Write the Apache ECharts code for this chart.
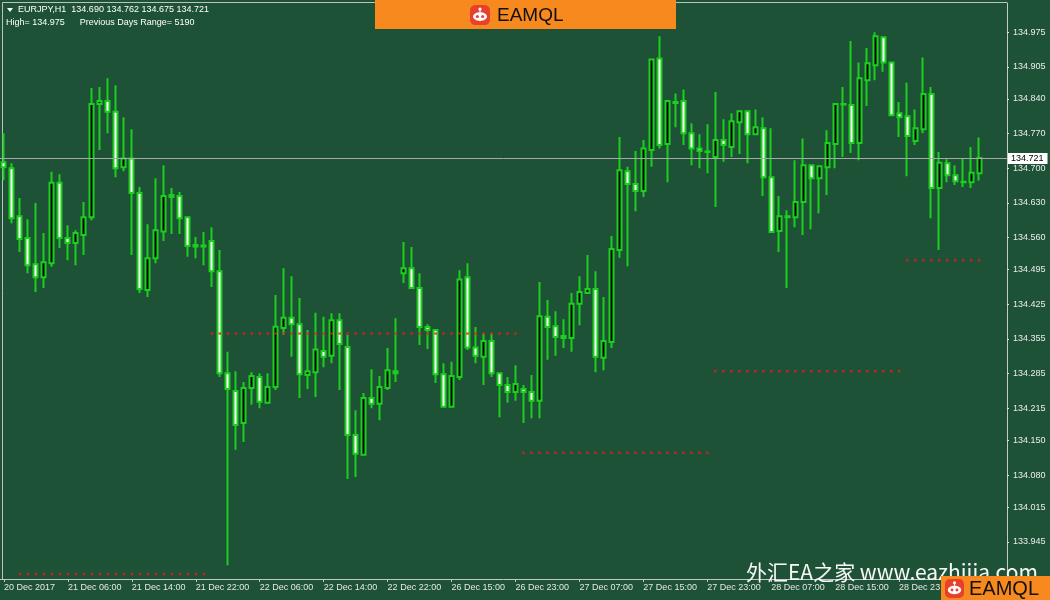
<!DOCTYPE html>
<html><head><meta charset="utf-8">
<script src="https://cdn.jsdelivr.net/npm/echarts@6/dist/echarts.min.js"></script>
<style>html,body{margin:0;padding:0;background:#1e5236}#c{width:1050px;height:600px}</style>
</head><body><div id="c"></div>
<script>
const symbolName = 'EURJPY,H1';
const openP = [134.712,134.700,134.603,134.559,134.506,134.480,134.508,134.671,134.559,134.549,
134.565,134.601,134.830,134.836,134.814,134.702,134.720,134.650,134.454,134.518,
134.572,134.646,134.644,134.601,134.545,134.544,134.553,134.492,134.286,134.250,
134.185,134.256,134.278,134.226,134.258,134.377,134.398,134.385,134.282,134.288,
134.331,134.321,134.393,134.339,134.161,134.121,134.236,134.224,134.256,134.290,
134.488,134.498,134.458,134.379,134.373,134.284,134.218,134.278,134.480,134.338,
134.319,134.351,134.286,134.262,134.248,134.254,134.248,134.230,134.400,134.381,
134.361,134.357,134.426,134.448,134.456,134.317,134.349,134.535,134.694,134.668,
134.654,134.737,134.922,134.749,134.834,134.836,134.771,134.740,134.734,134.723,
134.757,134.743,134.793,134.815,134.769,134.781,134.682,134.573,134.603,134.601,
134.632,134.706,134.680,134.702,134.749,134.830,134.828,134.751,134.878,134.908,
134.965,134.914,134.811,134.805,134.755,134.779,134.850,134.660,134.710,134.686,
134.673,134.672,134.690];
const highP = [134.771,134.710,134.640,134.597,134.630,134.569,134.693,134.688,134.585,134.575,
134.632,134.862,134.864,134.882,134.868,134.803,134.779,134.662,134.587,134.680,
134.706,134.660,134.652,134.603,134.561,134.571,134.581,134.535,134.329,134.290,
134.268,134.288,134.286,134.286,134.444,134.498,134.482,134.438,134.373,134.408,
134.400,134.407,134.407,134.363,134.211,134.246,134.294,134.280,134.337,134.397,
134.551,134.541,134.488,134.385,134.375,134.306,134.309,134.494,134.508,134.379,
134.367,134.367,134.288,134.278,134.302,134.262,134.282,134.470,134.434,134.411,
134.395,134.448,134.482,134.525,134.492,134.440,134.563,134.763,134.703,134.735,
134.757,134.922,134.967,134.838,134.851,134.859,134.791,134.769,134.789,134.854,
134.799,134.811,134.817,134.817,134.819,134.803,134.781,134.644,134.615,134.716,
134.760,134.708,134.706,134.777,134.832,134.864,134.957,134.914,134.943,134.975,
134.967,134.914,134.834,134.873,134.819,134.924,134.864,134.733,134.718,134.706,
134.720,134.743,134.762];
const lowP = [134.676,134.589,134.531,134.488,134.450,134.458,134.501,134.539,134.514,134.504,
134.525,134.595,134.737,134.771,134.682,134.694,134.525,134.448,134.440,134.508,
134.553,134.567,134.567,134.521,134.518,134.504,134.460,134.278,133.898,134.131,
134.147,134.222,134.215,134.225,134.252,134.363,134.319,134.236,134.254,134.238,
134.298,134.306,134.252,134.072,134.076,134.121,134.215,134.191,134.252,134.268,
134.468,134.456,134.343,134.335,134.266,134.218,134.217,134.272,134.333,134.306,
134.262,134.278,134.197,134.226,134.230,134.185,134.195,134.195,134.313,134.321,
134.337,134.329,134.383,134.448,134.288,134.292,134.337,134.519,134.502,134.613,
134.642,134.703,134.740,134.672,134.783,134.747,134.706,134.700,134.690,134.622,
134.713,134.723,134.729,134.710,134.767,134.644,134.571,134.531,134.458,134.581,
134.565,134.577,134.609,134.646,134.700,134.723,134.731,134.716,134.826,134.878,
134.895,134.807,134.763,134.684,134.747,134.771,134.599,134.535,134.672,134.666,
134.662,134.660,134.675];
const closeP = [134.702,134.599,134.557,134.504,134.480,134.510,134.671,134.559,134.549,134.569,
134.601,134.830,134.836,134.814,134.700,134.720,134.650,134.456,134.518,134.575,
134.644,134.642,134.599,134.543,134.542,134.542,134.492,134.286,134.254,134.181,
134.256,134.280,134.228,134.258,134.380,134.398,134.385,134.284,134.290,134.334,
134.319,134.393,134.345,134.161,134.123,134.236,134.224,134.258,134.292,134.286,
134.498,134.458,134.379,134.373,134.284,134.218,134.280,134.475,134.338,134.321,
134.351,134.286,134.262,134.248,134.264,134.248,134.230,134.401,134.379,134.359,
134.357,134.426,134.450,134.456,134.319,134.351,134.537,134.696,134.668,134.654,
134.740,134.920,134.747,134.836,134.832,134.771,134.740,134.735,134.733,134.757,
134.747,134.795,134.815,134.769,134.783,134.682,134.571,134.603,134.601,134.632,
134.706,134.680,134.704,134.751,134.830,134.829,134.751,134.882,134.912,134.967,
134.914,134.807,134.803,134.765,134.781,134.850,134.660,134.711,134.686,134.674,
134.672,134.691,134.721];
const xTickLabels = ['20 Dec 2017','21 Dec 06:00','21 Dec 14:00','21 Dec 22:00','22 Dec 06:00','22 Dec 14:00','22 Dec 22:00','26 Dec 15:00','26 Dec 23:00','27 Dec 07:00','27 Dec 15:00','27 Dec 23:00','28 Dec 07:00','28 Dec 15:00','28 Dec 23:00'];
const yTickValues = [134.975,134.905,134.840,134.770,134.700,134.630,134.560,134.495,134.425,134.355,134.285,134.215,134.150,134.080,134.015,133.945];
const dayHigh = 134.975;
const prevDaysRange = 5190;
const levelValues = [133.880, 134.366, 134.125, 134.290, 134.514];
const levelStart = [2, 26, 65, 89, 113];
const levelEnd = [25, 64, 88, 112, 122];
const yMin = 133.870, yMax = 135.034;
const slotCount = 126;

const n = closeP.length;
const lastPrice = closeP[n - 1];
const categories = Array.from({length: slotCount}, (_, i) => String(i));
const candleData = openP.map((o, i) => [o, closeP[i], lowP[i], highP[i]]);
const levelDots = [];
levelValues.forEach((v, j) => { for (let k = levelStart[j]; k <= levelEnd[j]; k++) levelDots.push([k, v]); });

const GREEN = '#1ccf1c';
const FONT = '"Liberation Sans", Arial, sans-serif';

function robot(x, y, s, z) {
  return { type: 'group', x: x, y: y, z: z, children: [
    { type: 'rect', shape: {x: 0, y: 0, width: s, height: s, r: s * 0.26}, style: {fill: '#e8402a'}, z: z },
    { type: 'circle', shape: {cx: s / 2, cy: s * 0.2, r: s * 0.08}, style: {fill: '#fff'}, z: z },
    { type: 'rect', shape: {x: s * 0.47, y: s * 0.22, width: s * 0.06, height: s * 0.14}, style: {fill: '#fff'}, z: z },
    { type: 'ellipse', shape: {cx: s / 2, cy: s * 0.58, rx: s * 0.35, ry: s * 0.22}, style: {fill: '#fff'}, z: z },
    { type: 'circle', shape: {cx: s * 0.37, cy: s * 0.58, r: s * 0.075}, style: {fill: '#e8402a'}, z: z },
    { type: 'circle', shape: {cx: s * 0.63, cy: s * 0.58, r: s * 0.075}, style: {fill: '#e8402a'}, z: z }
  ]};
}

const chart = echarts.init(document.getElementById('c'), null, {renderer: 'canvas'});
chart.setOption({
  backgroundColor: '#1e5236',
  animation: false,
  grid: { left: -1, right: 43, top: 3, bottom: 21, containLabel: false },
  xAxis: {
    type: 'category', data: categories, boundaryGap: true,
    axisLine: { lineStyle: { color: '#c8c8c8', width: 1 } },
    axisTick: { show: true, interval: 7, alignWithLabel: true, length: 3, lineStyle: { color: '#c8c8c8' } },
    axisLabel: { interval: 7, align: 'left', margin: 4, color: '#e6e6e6', fontSize: 9, fontFamily: FONT,
      formatter: (v, i) => xTickLabels[Math.round(i / 8)] || '' },
    splitLine: { show: false }
  },
  yAxis: {
    type: 'value', position: 'right', min: yMin, max: yMax, scale: true,
    axisLine: { show: true, lineStyle: { color: '#c8c8c8', width: 1 } },
    axisTick: { show: true, length: 2, customValues: yTickValues, lineStyle: { color: '#e0e0e0' } },
    axisLabel: { customValues: yTickValues, margin: 6, color: '#ececec', fontSize: 9, fontFamily: FONT,
      formatter: v => Number(v).toFixed(3) },
    splitLine: { show: false }
  },
  series: [
    {
      type: 'candlestick', data: candleData, barWidth: 4.5,
      itemStyle: { color: '#000000', color0: '#ffffff', borderColor: GREEN, borderColor0: GREEN, borderWidth: 2 },
      markLine: {
        silent: true, symbol: ['none', 'none'],
        lineStyle: { color: '#a3aba4', width: 1, type: 'solid' },
        label: { position: 'end', distance: 1, formatter: () => lastPrice.toFixed(3),
          backgroundColor: '#ffffff', color: '#000', fontSize: 9, fontFamily: FONT, padding: [1, 4, 1, 3] },
        data: [{ yAxis: lastPrice }]
      }
    },
    {
      type: 'scatter', data: levelDots, symbol: 'rect', symbolSize: 2.5,
      itemStyle: { color: '#e61c1c' }, silent: true
    }
  ],
  graphic: [
    { type: 'polyline', shape: { points: [[2.5, 579], [2.5, 2.5], [1007, 2.5]] }, style: { stroke: '#c0c0c0', lineWidth: 1, fill: null }, z: 1 },
    { type: 'polygon', shape: { points: [[7, 8], [13, 8], [10, 12]] }, style: { fill: '#fff' }, z: 50 },
    { type: 'text', x: 18, y: 10, z: 50, style: { text: symbolName + '  ' + [openP[n-1], highP[n-1], lowP[n-1], closeP[n-1]].map(v => v.toFixed(3)).join(' '), fill: '#fff', fontSize: 9, fontFamily: FONT, verticalAlign: 'middle' } },
    { type: 'text', x: 6, y: 23, z: 50, style: { text: 'High= ' + dayHigh.toFixed(3) + '      Previous Days Range= ' + prevDaysRange, fill: '#fff', fontSize: 9, fontFamily: FONT, verticalAlign: 'middle' } },
    { type: 'rect', shape: { x: 375, y: 0, width: 301, height: 29 }, style: { fill: '#f7891f' }, z: 60 },
    robot(470, 5, 20, 61),
    { type: 'text', x: 497, y: 15.5, z: 61, style: { text: 'EAMQL', fill: '#111', fontSize: 19, fontFamily: FONT, verticalAlign: 'middle' } },
    { type: 'text', x: 746, y: 572, z: 70, style: { text: '外汇EA之家 www.eazhijia.com', fill: 'rgba(255,255,255,0.96)', fontSize: 21, fontFamily: '"Noto Sans CJK SC", "Noto Sans", sans-serif', verticalAlign: 'middle' } },
    { type: 'rect', shape: { x: 941, y: 576, width: 109, height: 24 }, style: { fill: '#f7891f' }, z: 80 },
    robot(945, 579, 19, 81),
    { type: 'text', x: 969, y: 589, z: 81, style: { text: 'EAMQL', fill: '#111', fontSize: 20, fontFamily: FONT, verticalAlign: 'middle' } }
  ]
});
</script>
</body></html>
